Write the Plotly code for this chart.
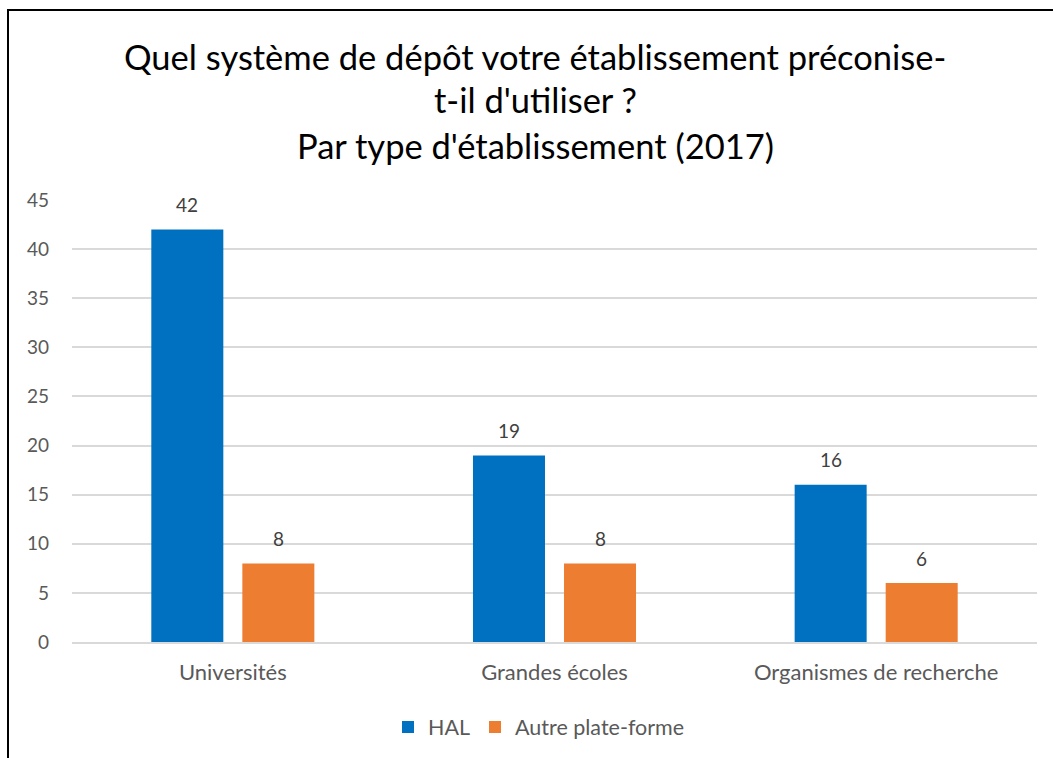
import plotly.graph_objects as go

categories = ["Universités", "Grandes écoles", "Organismes de recherche"]
hal = [42, 19, 16]
autre = [8, 8, 6]
series_names = ["HAL", "Autre plate-forme"]
y_ticks = [0, 5, 10, 15, 20, 25, 30, 35, 40, 45]
title_lines = [
    "Quel système de dépôt votre établissement préconise-",
    "t-il d'utiliser ?",
    "Par type d'établissement (2017)",
]

FONT = "Lato, Carlito, Calibri, sans-serif"
W, H = 1053, 758
ML, MR, MT, MB = 72, 16, 200, 116
PH = H - MT - MB
PW = W - ML - MR

fig = go.Figure()
fig.add_trace(go.Bar(
    x=categories, y=hal, name=series_names[0],
    marker=dict(color="#0070C0", line=dict(width=0)),
))
fig.add_trace(go.Bar(
    x=categories, y=autre, name=series_names[1],
    marker=dict(color="#ED7D31", line=dict(width=0)),
))

# data labels above bars
for vals, shift in ((hal, -45.5), (autre, 45.5)):
    for c, v in zip(categories, vals):
        fig.add_annotation(
            x=c, y=v, xref="x", yref="y", text=str(v), showarrow=False,
            xshift=shift, yshift=25, yanchor="middle", xanchor="center",
            font=dict(size=19, color="#404040", family=FONT),
        )

# title lines
for i, (line, py) in enumerate(zip(title_lines, [56, 100, 145])):
    fig.add_annotation(
        x=(535 - ML) / PW, xref="paper", y=(H - MB - py) / PH, yref="paper",
        text=line, showarrow=False, xanchor="center", yanchor="middle",
        font=dict(size=34.5, color="#000000", family=FONT),
    )

fig.update_layout(
    width=W, height=H,
    paper_bgcolor="white", plot_bgcolor="white",
    margin=dict(l=ML, r=MR, t=MT, b=MB),
    barmode="group", bargap=0.434, bargroupgap=0.209,
    font=dict(family=FONT, color="#595959", size=20),
    xaxis=dict(
        showgrid=False, showline=True, linecolor="#D9D9D9", linewidth=1.5,
        ticks="", tickfont=dict(size=22, color="#595959"), ticklabelstandoff=10,
    ),
    yaxis=dict(
        range=[0, 45], tickvals=y_ticks, showgrid=True, gridcolor="#D9D9D9",
        gridwidth=1.5, zeroline=False, showline=False, ticks="",
        tickfont=dict(size=19, color="#595959"), ticklabelstandoff=22,
    ),
    legend=dict(
        orientation="h", x=539 / W, xanchor="center", xref="container",
        y=1 - 727 / H, yanchor="middle", yref="container",
        font=dict(size=21.5, color="#595959"), itemwidth=30,
        traceorder="normal",
    ),
    showlegend=True,
)

fig.add_shape(
    type="rect", xref="paper", yref="paper",
    x0=(8 - ML) / PW, x1=(W - ML + 20) / PW,
    y0=-(MB + 20) / PH, y1=1 + (MT - 10) / PH,
    line=dict(color="#000000", width=2), fillcolor="rgba(0,0,0,0)", layer="above",
)

fig.write_html(
    "out.html",
    config={"displayModeBar": False},
    post_script="document.body.style.margin='0';document.body.style.padding='0';",
)
